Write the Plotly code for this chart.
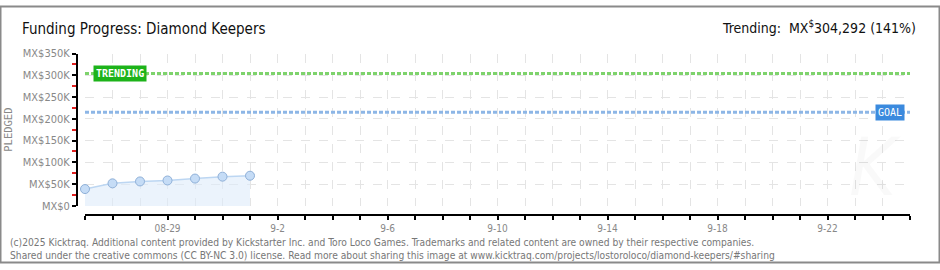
import plotly.graph_objects as go

# ---- data ----
dates = ["2025-08-26", "2025-08-27", "2025-08-28", "2025-08-29", "2025-08-30", "2025-08-31", "2025-09-01"]
pledged = [38700, 51800, 56200, 58400, 62800, 67200, 69300]
trending_value = 304292
goal_value = 215000
range_start = "2025-08-26"
range_end = "2025-09-25"
y_ticks = [0, 50000, 100000, 150000, 200000, 250000, 300000, 350000]
y_tick_labels = ["MX$0", "MX$50K", "MX$100K", "MX$150K", "MX$200K", "MX$250K", "MX$300K", "MX$350K"]
x_tick_dates = ["2025-08-29", "2025-09-02", "2025-09-06", "2025-09-10", "2025-09-14", "2025-09-18", "2025-09-22"]
x_tick_labels = ["08-29", "9-2", "9-6", "9-10", "9-14", "9-18", "9-22"]

W, H = 940, 270
DAY_MS = 86400000
FONT = "DejaVu Sans Condensed"

fig = go.Figure()
fig.add_trace(go.Scatter(
    x=dates, y=pledged, mode="lines+markers",
    line=dict(color="#bcd6f2", width=1.5),
    fill="tozeroy", fillcolor="rgba(222,235,250,0.6)",
    marker=dict(size=9, color="#c5dcf6", line=dict(color="#8fb0d8", width=1)),
    cliponaxis=False,
    showlegend=False, hoverinfo="skip"))

fig.update_layout(
    width=W, height=H,
    margin=dict(l=0, r=0, t=0, b=0),
    paper_bgcolor="white", plot_bgcolor="white",
    font=dict(family=FONT),
    xaxis=dict(
        domain=[85 / W, 910 / W], range=[range_start, range_end],
        anchor="free", position=(H - 220) / H,
        tickvals=x_tick_dates, ticktext=x_tick_labels,
        showgrid=True, gridcolor="#e4e4e4", griddash="dash", gridwidth=1,
        showline=True, linecolor="black", linewidth=2,
        ticks="outside", ticklen=4, tickcolor="black", tickwidth=1.5,
        minor=dict(dtick=DAY_MS, tick0=range_start, ticks="outside", ticklen=4, tickcolor="black", tickwidth=1.5,
                   showgrid=True, gridcolor="#e4e4e4", griddash="dash", gridwidth=1),
        tickfont=dict(size=10, color="#888888", family=FONT),
        zeroline=False, fixedrange=True),
    yaxis=dict(
        domain=[(H - 210) / H, (H - 50) / H], range=[0, 350000],
        anchor="free", position=77 / W,
        tickvals=y_ticks, ticktext=y_tick_labels,
        showgrid=True, gridcolor="#e4e4e4", griddash="dash", gridwidth=1,
        showline=True, linecolor="black", linewidth=2,
        ticks="outside", ticklen=4, tickcolor="black", tickwidth=1.5,
        minor=dict(dtick=25000, tick0=0, ticks="outside", ticklen=4, tickcolor="#e02020", tickwidth=1.5, showgrid=False),
        tickfont=dict(size=11, color="#888888", family=FONT),
        zeroline=False, fixedrange=True),
)

# reference lines
fig.add_shape(type="line", xref="x domain", yref="y", x0=0, x1=1, y0=trending_value, y1=trending_value,
              line=dict(color="#7ed36c", width=3, dash="4px,2px"), layer="above")
fig.add_shape(type="line", xref="x domain", yref="y", x0=0, x1=1, y0=goal_value, y1=goal_value,
              line=dict(color="#8db6e6", width=3, dash="4px,2px"), layer="above")

fig.add_annotation(xref="paper", yref="y", x=93 / W, y=trending_value, xanchor="left", yanchor="middle",
                   text="<b>TRENDING</b>", showarrow=False, bgcolor="#1db31a", borderpad=2,
                   font=dict(size=10, color="white", family="DejaVu Sans Mono"))
fig.add_annotation(xref="paper", yref="y", x=905 / W, y=goal_value, xanchor="right", yanchor="middle",
                   text="GOAL", showarrow=False, bgcolor="#3b8ade", borderpad=2,
                   font=dict(size=10, color="white", family="DejaVu Sans Mono"))

# titles
fig.add_annotation(xref="paper", yref="paper", x=20 / W, y=1 - 24 / H, xanchor="left", yanchor="middle",
                   text="Funding Progress: Diamond Keepers", showarrow=False,
                   font=dict(size=15, color="#111111", family=FONT))
fig.add_annotation(xref="paper", yref="paper", x=918 / W, y=1 - 22 / H, xanchor="right", yanchor="middle",
                   text="Trending:  MX<sup>$</sup>304,292 (141%)", showarrow=False,
                   font=dict(size=14, color="#111111", family=FONT))
fig.add_annotation(xref="paper", yref="paper", x=8 / W, y=1 - 130 / H, xanchor="center", yanchor="middle",
                   text="PLEDGED", textangle=-90, showarrow=False,
                   font=dict(size=10.5, color="#888888", family="DejaVu Sans Mono"))

# watermark
fig.add_annotation(xref="paper", yref="paper", x=875 / W, y=1 - 170 / H, xanchor="center", yanchor="middle",
                   text="<i>K</i>", showarrow=False,
                   font=dict(size=80, color="rgba(0,0,0,0.025)", family=FONT))

# footer
fig.add_annotation(xref="paper", yref="paper", x=8 / W, y=1 - 248 / H, xanchor="left", yanchor="middle",
                   text="(c)2025 Kicktraq. Additional content provided by Kickstarter Inc. and Toro Loco Games. Trademarks and related content are owned by their respective companies.",
                   showarrow=False, font=dict(size=10.2, color="#777777", family=FONT))
fig.add_annotation(xref="paper", yref="paper", x=8 / W, y=1 - 262 / H, xanchor="left", yanchor="middle",
                   text="Shared under the creative commons (CC BY-NC 3.0) license. Read more about sharing this image at www.kicktraq.com/projects/lostoroloco/diamond-keepers/#sharing",
                   showarrow=False, font=dict(size=10.2, color="#777777", family=FONT))

# border
fig.add_shape(type="rect", xref="paper", yref="paper", x0=0.5 / W, x1=1 - 0.5 / W, y0=0.5 / H, y1=1 - 0.5 / H,
              line=dict(color="#8a8a8a", width=2), fillcolor="rgba(0,0,0,0)")

fig.write_html("out.html")
